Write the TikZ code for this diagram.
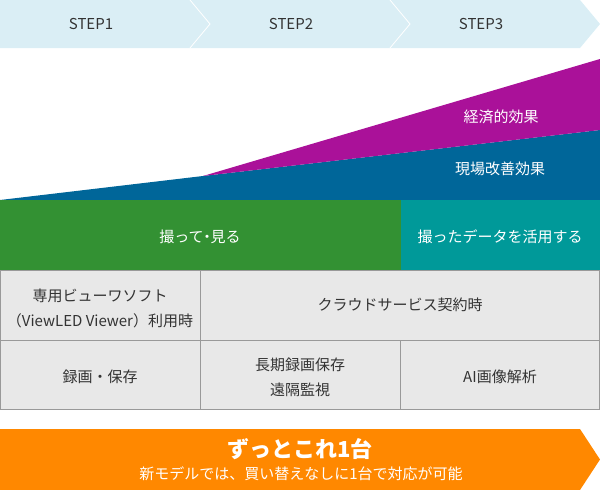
\documentclass[tikz,border=0pt]{standalone}
\usepackage{fontspec}
\newfontfamily\jpfont{Noto Sans CJK JP}
\usepackage{xcolor}
\usepackage{tikz}
\usetikzlibrary{positioning}

\definecolor{stepblue}{HTML}{DAEEF5}
\definecolor{ecopurple}{HTML}{AA1199}
\definecolor{siteblue}{HTML}{006699}
\definecolor{watchgreen}{HTML}{339133}
\definecolor{useteal}{HTML}{009999}
\definecolor{cellgray}{HTML}{E8E8E8}
\definecolor{linegray}{HTML}{999999}
\definecolor{textgray}{HTML}{333333}
\definecolor{oneorange}{HTML}{FF8800}

\begin{document}
\begin{tikzpicture}[x=1pt,y=-1pt,
  every node/.style={font=\jpfont\fontsize{15}{25}\selectfont,inner sep=0pt},
  darktxt/.style={text=textgray,align=center},
  lighttxt/.style={text=white,align=center}]
  \useasboundingbox (0,0) rectangle (600,490);
  \fill[stepblue] (0,0) -- (580,0) -- (600,24) -- (580,48) -- (0,48) -- cycle;
  \draw[white,thick] (190,0) -- (210,24) -- (190,48);
  \draw[white,thick] (390,0) -- (410,24) -- (390,48);
  \node[darktxt] (step1) at (91,24) {STEP1};
  \node[darktxt] (step2) at (291,24) {STEP2};
  \node[darktxt] (step3) at (481,24) {STEP3};
  \fill[siteblue] (0,200) -- (203,176) -- (600,130) -- (600,200) -- cycle;
  \fill[ecopurple] (203,176) -- (600,59) -- (600,130) -- cycle;
  \node[lighttxt] (eco) at (501,117) {経済的効果};
  \node[lighttxt] (site) at (500,169) {現場改善効果};
  \fill[watchgreen] (0,200) rectangle (401,270);
  \fill[useteal] (401,200) rectangle (600,270);
  \node[lighttxt] (watch) at (200,237) {撮って\hspace{-4pt}・\hspace{-4pt}見る};
  \node[lighttxt] (use) at (500,237) {撮ったデータを活用する};
  \draw[linegray,fill=cellgray] (0.5,270.5) rectangle (599.5,409.5);
  \draw[linegray] (0.5,340) -- (599.5,340);
  \draw[linegray] (200,270.5) -- (200,409.5);
  \draw[linegray] (400,340) -- (400,409.5);
  \node[darktxt] (viewer) at (100,308) {専用ビューワソフト\\（ViewLED Viewer）利用時};
  \node[darktxt] (cloud) at (400,305) {クラウドサービス契約時};
  \node[darktxt] (rec) at (100,377) {録画・保存};
  \node[darktxt] (longrec) at (300,377) {長期録画保存\\遠隔監視};
  \node[darktxt] (ai) at (500,377) {AI画像解析};
  \fill[oneorange] (0,429) -- (580,429) -- (600,459.5) -- (580,490) -- (0,490) -- cycle;
  \node[lighttxt,font=\jpfont\bfseries\fontsize{22}{26}\selectfont] (oneunit) at (300,449) {ずっとこれ1台};
  \node[lighttxt] (oneunitsub) at (301,474) {新モデルでは、買い替えなしに1台で対応が可能};
\end{tikzpicture}
\end{document}
